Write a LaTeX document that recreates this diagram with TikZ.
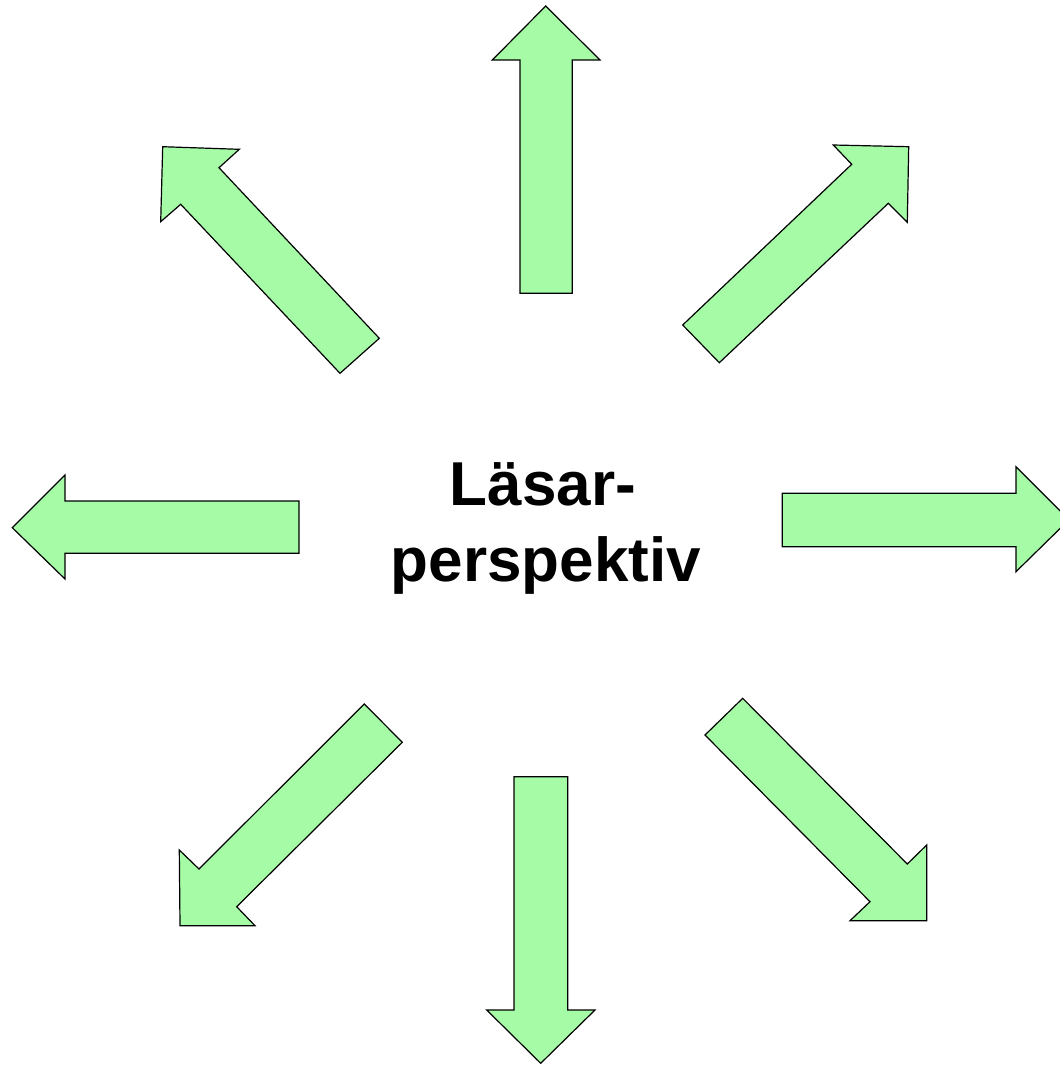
\documentclass[tikz,border=0pt]{standalone}
\usepackage{fontspec}
\setmainfont{Liberation Sans}
\definecolor{arrowgreen}{RGB}{166,251,166}
\begin{document}
\begin{tikzpicture}[x=0.75pt,y=-0.75pt,
  blockarrow/.style={draw=black,fill=arrowgreen,line width=0.9pt,line join=miter},
  label/.style={font=\fontsize{46.5}{57.5}\selectfont\bfseries,anchor=base,inner sep=0pt}]
\useasboundingbox (0,0) rectangle (1060,1065);
% up
\draw[blockarrow] (545.7,6) -- (600,60) -- (572.3,60) -- (572.3,293.3) -- (520,293.3) -- (520,60) -- (492.3,60) -- cycle;
% up-left
\draw[blockarrow] (162.7,146.7) -- (239.3,149.3) -- (219,167.7) -- (379.3,338.3) -- (340,373.3) -- (180.7,204.3) -- (160.7,221.7) -- cycle;
% up-right
\draw[blockarrow] (908.7,146.7) -- (907.3,222.3) -- (888.3,203.3) -- (719.3,362.7) -- (682.7,325) -- (851.7,164.3) -- (833.3,145) -- cycle;
% left
\draw[blockarrow] (12.3,527.7) -- (65,475) -- (65,501) -- (299,501) -- (299,553.3) -- (65,553.3) -- (65,579) -- cycle;
% right
\draw[blockarrow] (1069,519.7) -- (1016,571.7) -- (1016,546.7) -- (782.3,546.7) -- (782.3,493.3) -- (1016,493.3) -- (1016,466.7) -- cycle;
% down-left
\draw[blockarrow] (180,925.7) -- (179.3,850) -- (199,869) -- (364.3,704) -- (402.3,742.3) -- (236.7,906.7) -- (255,925.7) -- cycle;
% down
\draw[blockarrow] (540.7,1063.3) -- (486.7,1010) -- (514,1010) -- (514,776.7) -- (567.7,776.7) -- (567.7,1010) -- (595,1010) -- cycle;
% down-right
\draw[blockarrow] (926.7,920.7) -- (850,920.7) -- (870,901.7) -- (705,735) -- (742.7,698.3) -- (907.3,864) -- (926.7,845) -- cycle;
% text
\node[label] (l1) at (543,505) {Läsar-};
\node[label] (l2) at (546,581.7) {perspektiv};
\end{tikzpicture}
\end{document}
